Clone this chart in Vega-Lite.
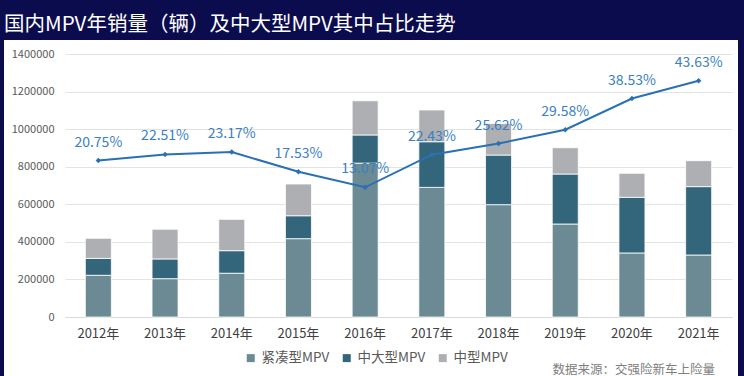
{
  "$schema": "https://vega.github.io/schema/vega-lite/v6.json",
  "width": 734,
  "height": 336,
  "autosize": {"type": "none"},
  "padding": {"left": 4, "top": 40, "right": 6, "bottom": 0},
  "background": "#0b0c4e",
  "config": {
    "font": "Noto Sans CJK SC",
    "view": {"fill": "white", "stroke": null}
  },
  "title": {
    "text": "国内MPV年销量（辆）及中大型MPV其中占比走势",
    "anchor": "start",
    "frame": "group",
    "orient": "top",
    "offset": 5,
    "color": "white",
    "fontSize": 20.5,
    "fontWeight": "normal",
    "font": "Noto Sans CJK SC"
  },
  "datasets": {
    "bars": [
      {"year": "2012年", "type": "紧凑型MPV", "ord": 1, "sales": 222000},
      {"year": "2012年", "type": "中大型MPV", "ord": 2, "sales": 90000},
      {"year": "2012年", "type": "中型MPV", "ord": 3, "sales": 107000},
      {"year": "2013年", "type": "紧凑型MPV", "ord": 1, "sales": 204000},
      {"year": "2013年", "type": "中大型MPV", "ord": 2, "sales": 105000},
      {"year": "2013年", "type": "中型MPV", "ord": 3, "sales": 158000},
      {"year": "2014年", "type": "紧凑型MPV", "ord": 1, "sales": 233000},
      {"year": "2014年", "type": "中大型MPV", "ord": 2, "sales": 120000},
      {"year": "2014年", "type": "中型MPV", "ord": 3, "sales": 167000},
      {"year": "2015年", "type": "紧凑型MPV", "ord": 1, "sales": 417000},
      {"year": "2015年", "type": "中大型MPV", "ord": 2, "sales": 122000},
      {"year": "2015年", "type": "中型MPV", "ord": 3, "sales": 169000},
      {"year": "2016年", "type": "紧凑型MPV", "ord": 1, "sales": 819000},
      {"year": "2016年", "type": "中大型MPV", "ord": 2, "sales": 150000},
      {"year": "2016年", "type": "中型MPV", "ord": 3, "sales": 182000},
      {"year": "2017年", "type": "紧凑型MPV", "ord": 1, "sales": 690000},
      {"year": "2017年", "type": "中大型MPV", "ord": 2, "sales": 243000},
      {"year": "2017年", "type": "中型MPV", "ord": 3, "sales": 169000},
      {"year": "2018年", "type": "紧凑型MPV", "ord": 1, "sales": 598000},
      {"year": "2018年", "type": "中大型MPV", "ord": 2, "sales": 264000},
      {"year": "2018年", "type": "中型MPV", "ord": 3, "sales": 168000},
      {"year": "2019年", "type": "紧凑型MPV", "ord": 1, "sales": 495000},
      {"year": "2019年", "type": "中大型MPV", "ord": 2, "sales": 266000},
      {"year": "2019年", "type": "中型MPV", "ord": 3, "sales": 140000},
      {"year": "2020年", "type": "紧凑型MPV", "ord": 1, "sales": 341000},
      {"year": "2020年", "type": "中大型MPV", "ord": 2, "sales": 296000},
      {"year": "2020年", "type": "中型MPV", "ord": 3, "sales": 128000},
      {"year": "2021年", "type": "紧凑型MPV", "ord": 1, "sales": 330000},
      {"year": "2021年", "type": "中大型MPV", "ord": 2, "sales": 364000},
      {"year": "2021年", "type": "中型MPV", "ord": 3, "sales": 138000}
    ],
    "share": [
      {"year": "2012年", "share": 0.2075},
      {"year": "2013年", "share": 0.2251},
      {"year": "2014年", "share": 0.2317},
      {"year": "2015年", "share": 0.1753},
      {"year": "2016年", "share": 0.1307},
      {"year": "2017年", "share": 0.2243},
      {"year": "2018年", "share": 0.2562},
      {"year": "2019年", "share": 0.2958},
      {"year": "2020年", "share": 0.3853},
      {"year": "2021年", "share": 0.4363}
    ]
  },
  "layer": [
    {
      "data": {"name": "bars"},
      "mark": {"type": "bar", "stroke": "white", "strokeWidth": 0.8},
      "encoding": {
        "x": {
          "field": "year",
          "type": "nominal",
          "sort": null,
          "scale": {"range": [61, 728], "paddingInner": 0.61, "paddingOuter": 0.305},
          "axis": {
            "orient": "bottom",
            "offset": -59,
            "labelAngle": 0,
            "labelPadding": 10,
            "labelFontSize": 13,
            "labelColor": "#404040",
            "ticks": false,
            "domain": true,
            "domainColor": "#d9d9d9",
            "title": "数据来源：交强险新车上险量",
            "titleX": 548,
            "titleY": 52,
            "titleAnchor": "start",
            "titleAlign": "left",
            "titleBaseline": "middle",
            "titleFontSize": 12.5,
            "titleFontWeight": "normal",
            "titleColor": "#808080"
          }
        },
        "y": {
          "field": "sales",
          "type": "quantitative",
          "stack": "zero",
          "scale": {"domain": [0, 1400000], "range": [277, 14], "nice": false, "zero": true},
          "axis": {
            "orient": "left",
            "offset": -61,
            "values": [0, 200000, 400000, 600000, 800000, 1000000, 1200000, 1400000],
            "format": "d",
            "grid": true,
            "gridColor": "#e3e3e3",
            "domain": false,
            "ticks": false,
            "labelPadding": 11,
            "labelFontSize": 11,
            "labelColor": "#595959",
            "title": null
          }
        },
        "color": {
          "field": "type",
          "type": "nominal",
          "scale": {
            "domain": ["紧凑型MPV", "中大型MPV", "中型MPV"],
            "range": ["#6b8a93", "#33667a", "#adafb2"]
          },
          "legend": {
            "orient": "none",
            "legendX": 240,
            "legendY": 311,
            "direction": "horizontal",
            "title": null,
            "symbolType": "square",
            "symbolSize": 64,
            "symbolStrokeWidth": 0,
            "labelFontSize": 13.5,
            "labelColor": "#595959",
            "labelOffset": 4,
            "columnPadding": 10
          }
        },
        "order": {"field": "ord", "type": "quantitative"}
      }
    },
    {
      "data": {"name": "share"},
      "encoding": {
        "x": {"field": "year", "type": "nominal", "sort": null},
        "y": {
          "field": "share",
          "type": "quantitative",
          "scale": {"domain": [0, 0.5], "range": [192.9, 18.5], "nice": false, "zero": false},
          "axis": null
        }
      },
      "layer": [
        {"mark": {"type": "line", "color": "#2a71b4", "strokeWidth": 2}},
        {"mark": {"type": "point", "shape": "diamond", "filled": true, "size": 30, "color": "#2a71b4", "opacity": 1}},
        {
          "mark": {"type": "text", "dy": -18, "fontSize": 14, "color": "#3a80c2"},
          "encoding": {"text": {"field": "share", "type": "quantitative", "format": ".2%"}}
        }
      ]
    }
  ],
  "resolve": {"scale": {"y": "independent"}}
}
